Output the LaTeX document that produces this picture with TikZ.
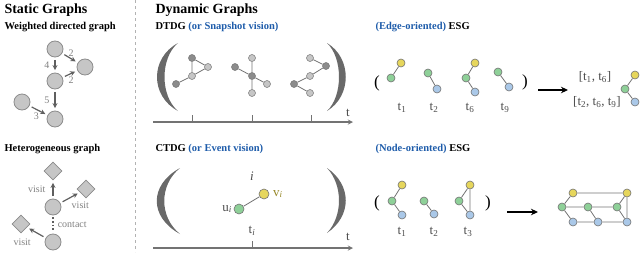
\documentclass[tikz,border=0pt]{standalone}
\usepackage{fontspec}
\setmainfont{Liberation Serif}
\usetikzlibrary{shapes.geometric, positioning, arrows.meta}
\definecolor{visblue}{RGB}{30,92,170}
\definecolor{nyellow}{RGB}{230,214,92}
\definecolor{ngreen}{RGB}{142,208,152}
\definecolor{nblue}{RGB}{170,200,232}
\definecolor{nline}{RGB}{115,115,115}
\definecolor{lgray}{RGB}{198,198,198}
\definecolor{dgray}{RGB}{140,140,140}
\definecolor{arrgray}{RGB}{95,95,95}
\definecolor{pargray}{RGB}{105,105,105}
\begin{document}
\begin{tikzpicture}[x=1pt, y=-1pt, >=stealth,
    bignode/.style={circle, fill=lgray, draw=dgray, thick, minimum size=16pt, inner sep=0pt},
    bigdiam/.style={diamond, fill=lgray, draw=dgray, thick, minimum size=18pt, inner sep=0pt},
    warr/.style={-{Stealth[length=5pt,width=5pt]}, line width=1.2pt, arrgray, shorten >=2.5pt, shorten <=2.5pt},
    wlab/.style={text=gray, font=\fontsize{10}{12}\selectfont, inner sep=1pt},
    title/.style={anchor=west, font=\bfseries\fontsize{14}{16}\selectfont},
    subtitle/.style={anchor=west, font=\bfseries\fontsize{10.5}{12}\selectfont},
    snl/.style={circle, fill=lgray, draw=nline, line width=0.5pt, minimum size=7pt, inner sep=0pt},
    snd/.style={snl, fill=dgray},
    sedge/.style={nline, line width=0.8pt},
    enode/.style={circle, draw=nline, line width=0.6pt, minimum size=8pt, inner sep=0pt},
    tlab/.style={text=black!70, font=\fontsize{13}{15}\selectfont, inner sep=0pt},
    axis/.style={nline, line width=1.3pt},
    bigarr/.style={-{Stealth[length=7pt,width=6.5pt]}, black, line width=1.2pt}]
\useasboundingbox (0,0) rectangle (640,252);

% titles
\node[title] (stitle) at (1,10) {Static Graphs};
\node[title] (dtitle) at (152,10) {Dynamic Graphs};
\node[subtitle] (wtitle) at (1,27) {Weighted directed graph};
\node[subtitle] (htitle) at (1,149) {Heterogeneous graph};
\node[subtitle] (dtdg) at (152,27) {DTDG \textcolor{visblue}{(or Snapshot vision)}};
\node[subtitle] (ctdg) at (152,149) {CTDG \textcolor{visblue}{(or Event vision)}};
\node[subtitle] (eesg) at (372,27) {\textcolor{visblue}{(Edge-oriented)} ESG};
\node[subtitle] (nesg) at (372,149) {\textcolor{visblue}{(Node-oriented)} ESG};
\draw[gray!60, dash pattern=on 3pt off 3pt, line width=0.6pt] (135,0) -- (135,252);

% weighted directed graph
\node[bignode] (wa) at (55,49) {};
\node[bignode] (wb) at (85,67) {};
\node[bignode] (wc) at (55,81) {};
\node[bignode] (wd) at (22,102) {};
\node[bignode] (we) at (55,119) {};
\draw[warr] (wa) -- node[wlab, left=4pt] {4} (wc);
\draw[warr] (wa) -- node[wlab, above right=0pt and -3pt] {2} (wb);
\draw[warr] (wc) -- node[wlab, below right=1pt and -3pt] {2} (wb);
\draw[warr] (wc) -- node[wlab, left=4pt] {5} (we);
\draw[warr] (wd) -- node[wlab, below left=1pt and -2pt] {3} (we);

% heterogeneous graph
\node[bigdiam] (ht) at (53,171) {};
\node[bignode] (hm) at (53,207) {};
\node[bigdiam] (hr) at (86,189) {};
\node[bignode] (hb) at (53,242) {};
\node[bigdiam] (hl) at (21,224) {};
\draw[warr] (hm) -- node[wlab, left=6pt] {visit} (ht);
\draw[warr] (hm) -- node[wlab, below right=3pt and 0pt] {visit} (hr);
\draw[warr] (hb) -- node[wlab, below left=5pt and 4pt] {visit} (hl);
\draw[arrgray, dotted, line width=1.6pt, shorten >=2pt, shorten <=2pt] (hm) -- node[wlab, right=3pt] {contact} (hb);

% DTDG
\fill[pargray] (178,43) .. controls (150,58) and (150,96) .. (178,111) .. controls (160,96) and (160,58) .. (178,43);
\fill[pargray] (327,43) .. controls (352,58) and (352,96) .. (327,111) .. controls (343,96) and (343,58) .. (327,43);
\coordinate (ax1s) at (153,122);
\coordinate (ax1e) at (353,122);
\draw[axis, ->] (ax1s) -- (ax1e);
\foreach \x in {192,252,311} \draw[axis, line width=0.8pt] (\x,122) -- (\x,115);
\node[tlab] (tt1) at (348,113) {t};
% snapshot 1
\node[snd] (a1) at (192,58) {};
\node[snl] (a2) at (208,67) {};
\node[snl] (a3) at (192,76) {};
\node[snd] (a4) at (176,84) {};
\draw[sedge] (a1) -- (a2) (a1) -- (a3) (a2) -- (a3) (a3) -- (a4);
% snapshot 2
\node[snd] (b1) at (252,76) {};
\node[snl] (b2) at (252,58) {};
\node[snd] (b3) at (235,67) {};
\node[snl] (b4) at (267,84) {};
\node[snl] (b5) at (252,93) {};
\draw[sedge] (b1) -- (b2) (b1) -- (b3) (b1) -- (b4) (b1) -- (b5);
% snapshot 3
\node[snl] (c1) at (310,58) {};
\node[snd] (c2) at (326,66) {};
\node[snl] (c3) at (310,76) {};
\node[snd] (c4) at (294,84) {};
\node[snl] (c5) at (310,93) {};
\draw[sedge] (c1) -- (c2) (c2) -- (c3) (c3) -- (c4) (c4) -- (c5);

% CTDG
\fill[pargray] (180,168) .. controls (149,185) and (149,217) .. (180,234) .. controls (159,217) and (159,185) .. (180,168);
\fill[pargray] (327,168) .. controls (352,185) and (352,216) .. (327,233) .. controls (343,216) and (343,185) .. (327,168);
\coordinate (ax2s) at (153,248);
\coordinate (ax2e) at (353,248);
\draw[axis, ->] (ax2s) -- (ax2e);
\draw[axis, line width=0.8pt] (252,248) -- (252,241);
\node[tlab] (tt2) at (348,237) {t};
\node[tlab] (ti) at (252,231) {t\textsubscript{\itshape i}};
\node[tlab] (ii) at (252,176) {\itshape i};
\node[enode, fill=ngreen, minimum size=10pt] (u) at (239,209) {};
\node[enode, fill=nyellow, minimum size=10pt] (v) at (264,194) {};
\draw[sedge] (u) -- (v);
\node[tlab, anchor=east] (ul) at (232,209) {u\textsubscript{\itshape i}};
\node[tlab, anchor=west, text={rgb,255:red,150;green,135;blue,40}] (vl) at (273,194) {v\textsubscript{\itshape i}};

% Edge-oriented ESG
\node[font=\fontsize{17}{19}\selectfont] (lp1) at (377,83) {(};
\node[font=\fontsize{17}{19}\selectfont] (rp1) at (525,82) {)};
\node[enode, fill=nyellow] (e1y) at (401,63) {};
\node[enode, fill=ngreen] (e1g) at (391,78) {};
\node[enode, fill=ngreen] (e2g) at (428,73) {};
\node[enode, fill=nblue] (e2b) at (437,89) {};
\node[enode, fill=nyellow] (e6y) at (475,63) {};
\node[enode, fill=ngreen] (e6g) at (466,78) {};
\node[enode, fill=nblue] (e6b) at (475,92) {};
\node[enode, fill=ngreen] (e9g) at (498,72) {};
\node[enode, fill=nblue] (e9b) at (509,87) {};
\draw[sedge] (e1y) -- (e1g) (e2g) -- (e2b) (e6y) -- (e6g) -- (e6b) (e9g) -- (e9b);
\node[tlab] (l1) at (402,108) {t\textsubscript{1}};
\node[tlab] (l2) at (434,108) {t\textsubscript{2}};
\node[tlab] (l6) at (470,108) {t\textsubscript{6}};
\node[tlab] (l9) at (505,108) {t\textsubscript{9}};
\coordinate (ea1) at (538,90);
\coordinate (ea2) at (568,90);
\draw[bigarr] (ea1) -- (ea2);
\node[tlab] (int1) at (595,77) {[t\textsubscript{1}, t\textsubscript{6}]};
\node[tlab] (int2) at (597,102) {[t\textsubscript{2}, t\textsubscript{6}, t\textsubscript{9}]};
\node[enode, fill=nyellow] (ry) at (635,75) {};
\node[enode, fill=ngreen] (rg) at (625,89) {};
\node[enode, fill=nblue] (rb) at (635,102) {};
\draw[sedge] (ry) -- (rg) -- (rb);

% Node-oriented ESG
\node[font=\fontsize{17}{19}\selectfont] (lp2) at (377,203) {(};
\node[font=\fontsize{17}{19}\selectfont] (rp2) at (488,203) {)};
\node[enode, fill=nyellow] (n1y) at (402,185) {};
\node[enode, fill=ngreen] (n1g) at (392,201) {};
\node[enode, fill=nblue] (n1b) at (402,215) {};
\node[enode, fill=ngreen] (n2g) at (424,201) {};
\node[enode, fill=nblue] (n2b) at (434,214) {};
\node[enode, fill=nyellow] (n3y) at (470,185) {};
\node[enode, fill=ngreen] (n3g) at (459,201) {};
\node[enode, fill=nblue] (n3b) at (470,215) {};
\draw[sedge] (n1y) -- (n1g) -- (n1b) (n2g) -- (n2b) (n3y) -- (n3g) -- (n3b) -- (n3y);
\node[tlab] (m1) at (402,232) {t\textsubscript{1}};
\node[tlab] (m2) at (434,232) {t\textsubscript{2}};
\node[tlab] (m3) at (468,232) {t\textsubscript{3}};
\coordinate (na1) at (507,212);
\coordinate (na2) at (538,212);
\draw[bigarr] (na1) -- (na2);
\node[enode, fill=nyellow] (y1) at (573,193) {};
\node[enode, fill=nyellow] (y2) at (627,193) {};
\node[enode, fill=ngreen] (g1) at (562,207) {};
\node[enode, fill=ngreen] (g2) at (588,207) {};
\node[enode, fill=ngreen] (g3) at (617,207) {};
\node[enode, fill=nblue] (b1n) at (573,222) {};
\node[enode, fill=nblue] (b2n) at (598,222) {};
\node[enode, fill=nblue] (b3n) at (627,222) {};
\draw[sedge] (y1) -- (y2) (y1) -- (g1) (g1) -- (g2) -- (g3) (g1) -- (b1n) (g2) -- (b2n) (g3) -- (b3n)
  (b1n) -- (b2n) -- (b3n) (y2) -- (g3) (y2) -- (b3n);
\end{tikzpicture}
\end{document}
